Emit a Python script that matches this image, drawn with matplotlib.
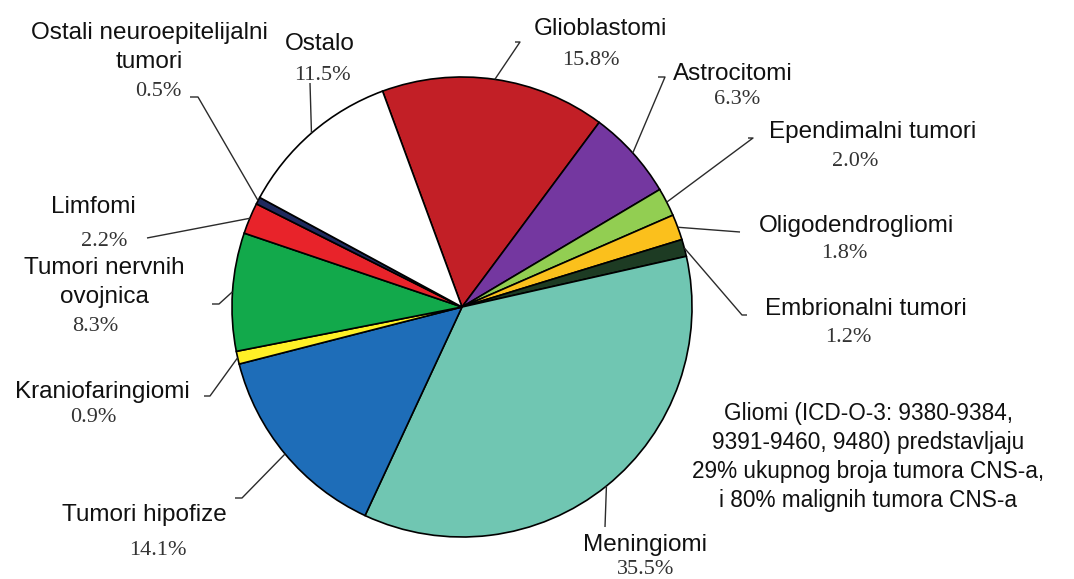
import matplotlib.pyplot as plt
import numpy as np

W, H = 1074, 579

categories = [
    "Glioblastomi", "Astrocitomi", "Ependimalni tumori", "Oligodendrogliomi",
    "Embrionalni tumori", "Meningiomi", "Tumori hipofize", "Kraniofaringiomi",
    "Tumori nervnih\novojnica", "Limfomi", "Ostali neuroepitelijalni\ntumori", "Ostalo",
]
shares = [15.8, 6.3, 2.0, 1.8, 1.2, 35.5, 14.1, 0.9, 8.3, 2.2, 0.5, 11.5]
slice_colors = [
    "#C21F26", "#7437A0", "#92CE52", "#FBC01C", "#1D3B23", "#70C6B2",
    "#1E6DB8", "#FFF026", "#12A94B", "#E8232A", "#1F2A5E", "#FFFFFF",
]
note = ("Gliomi (ICD-O-3: 9380-9384,\n9391-9460, 9480) predstavljaju\n"
        "29% ukupnog broja tumora CNS-a,\ni 80% malignih tumora CNS-a")

# label placement in pixel space (y from top): name baseline, percent baseline,
# leader points running from the text towards the wedge
layout = {
    "Glioblastomi": ((600, 35), (591, 65), [(515, 42), (520, 42)]),
    "Astrocitomi": ((733, 80), (737, 104), [(658, 77), (665, 77)]),
    "Ependimalni tumori": ((873, 138), (855, 166), [(748, 138), (753, 138)]),
    "Oligodendrogliomi": ((856, 232), (844, 258), [(740, 232)]),
    "Embrionalni tumori": ((866, 315), (848, 342), [(747, 315), (742, 315)]),
    "Meningiomi": ((645, 551), (646, 574), [(605, 527)]),
    "Tumori hipofize": ((144, 521), (158, 555), [(235, 498), (242, 498)]),
    "Kraniofaringiomi": ((102, 398), (93, 422), [(204, 396), (210, 396)]),
    "Tumori nervnih\novojnica": ((104, 274), (95, 331), [(212, 304), (219, 304)]),
    "Limfomi": ((93, 213), (104, 246), [(147, 238)]),
    "Ostali neuroepitelijalni\ntumori": ((149, 39), (158, 96), [(190, 97), (198, 97)]),
    "Ostalo": ((320, 50), (322, 80), [(310, 83)]),
}

SANS = ["Liberation Sans", "DejaVu Sans"]
SERIF = ["Liberation Serif", "DejaVu Serif"]
LINE_STEP = 29


def px(x, y):
    return x, H - y


fig = plt.figure(figsize=(W / 100, H / 100), dpi=100)
ax = fig.add_axes([0, 0, 1, 1])

wedges, _ = ax.pie(
    shares,
    colors=slice_colors,
    startangle=110.2,
    counterclock=False,
    center=px(462, 307),
    radius=230,
    wedgeprops=dict(edgecolor="black", linewidth=1.2),
)

ax.set_xlim(0, W)
ax.set_ylim(0, H)
ax.set_aspect("equal")
ax.axis("off")

for name, share, w in zip(categories, shares, wedges):
    (nx, ny), (qx, qy), lead = layout[name]
    for i, line in enumerate(name.split("\n")):
        ax.text(*px(nx, ny + i * LINE_STEP), line, ha="center", va="baseline",
                fontsize=17.5, family=SANS, color="#111111")
    ax.text(*px(qx, qy), f"{share:.1f}%", ha="center", va="baseline",
            fontsize=16, family=SERIF, color="#333333")

    # leader ends on the rim at the wedge's middle angle
    mid = np.deg2rad((w.theta1 + w.theta2) / 2)
    cx, cy = w.center
    rim = (cx + w.r * np.cos(mid), cy + w.r * np.sin(mid))
    pts = [px(x, y) for x, y in lead] + [rim]
    xs, ys = zip(*pts)
    ax.plot(xs, ys, color="#2B2B2B", lw=1.0, solid_capstyle="butt")

for i, line in enumerate(note.split("\n")):
    ax.text(*px(868, 420 + i * LINE_STEP), line, ha="center", va="baseline",
            fontsize=16.3, family=SANS, color="#111111")

fig.savefig("out.png", dpi=100, facecolor="white")
